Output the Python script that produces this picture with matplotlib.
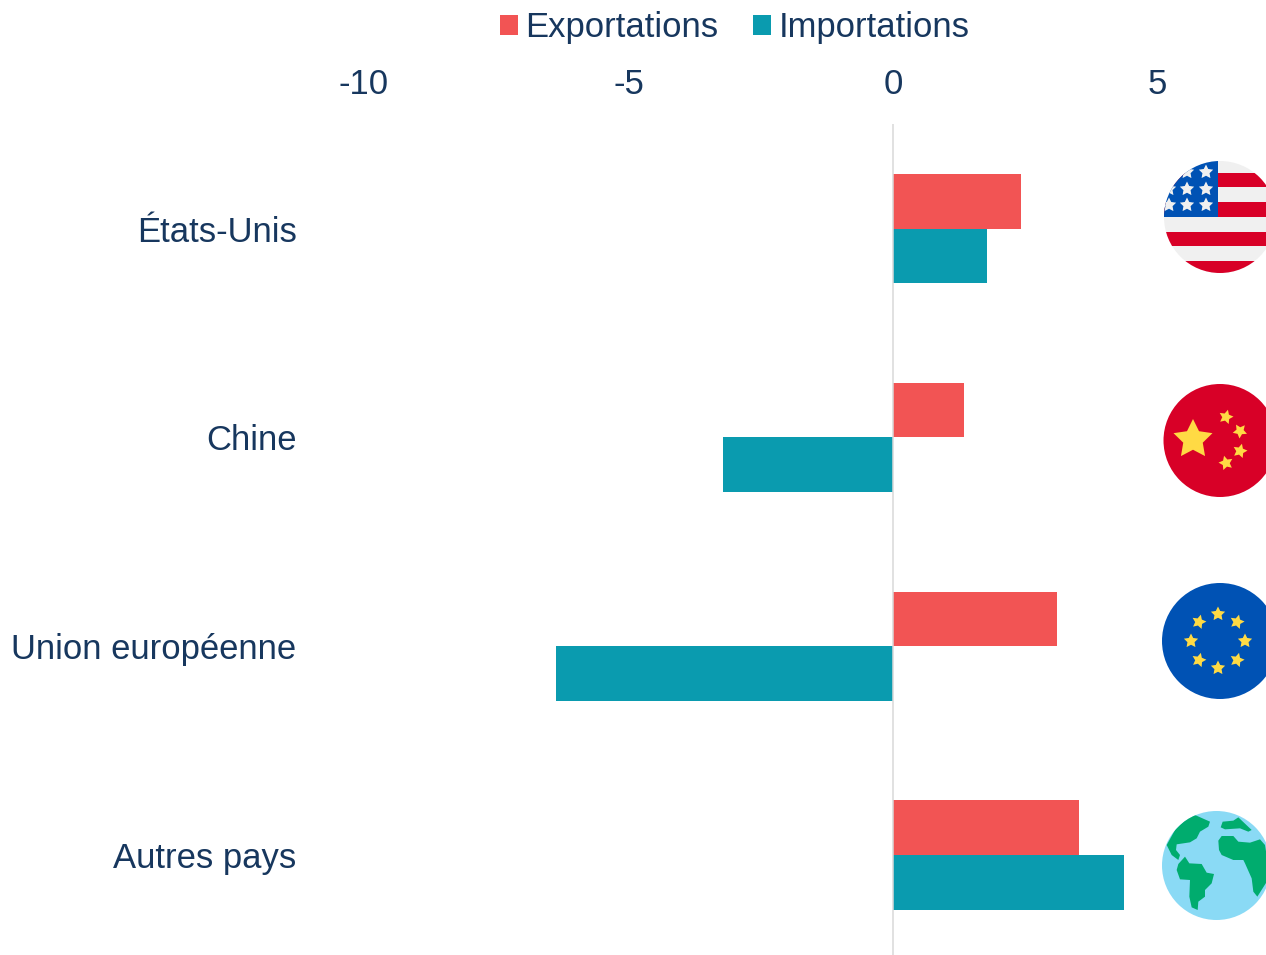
import numpy as np
import matplotlib
matplotlib.use("Agg")
import matplotlib.pyplot as plt
from matplotlib.patches import Circle, Polygon, Rectangle

plt.rcParams["font.family"] = ["Liberation Sans", "DejaVu Sans"]

countries = ["États-Unis", "Chine", "Union européenne", "Autres pays"]
exports = [2.42, 1.34, 3.10, 3.52]
imports = [1.78, -3.21, -6.37, 4.37]
xticks = [-10, -5, 0, 5]

RED, TEAL, NAVY = "#F25454", "#0A9BAF", "#17375E"
W, H = 1266, 955
BAR_H = 0.262
FS = 24.9


def star(cx, cy, r, rot=0.0):
    """five pointed star, pixel coords with y pointing down"""
    ang = np.deg2rad(-90 + rot + 36 * np.arange(10))
    rad = np.where(np.arange(10) % 2 == 0, r, r * 0.5)
    return np.c_[cx + rad * np.cos(ang), cy + rad * np.sin(ang)]


def add(ax, art, clip):
    ax.add_patch(art)
    art.set_clip_path(clip)


def flag_us(ax):
    cx, cy, r = 1220, 217, 56
    clip = Circle((cx, cy), r, fc="#F0F0F0", ec="none")
    ax.add_patch(clip)
    for y0, y1 in [(173, 187), (202, 217), (232, 246), (261, 275)]:
        add(ax, Rectangle((cx - r, y0), 2 * r, y1 - y0, fc="#D80027", ec="none"), clip)
    add(ax, Rectangle((cx - r, cy - r), 54, 56, fc="#0052B4", ec="none"), clip)
    for sx in (1169, 1187, 1206):
        for sy in (172, 189, 205):
            add(ax, Polygon(star(sx, sy, 7.5), fc="#F0F0F0", ec="none"), clip)


def flag_cn(ax):
    ax.add_patch(Circle((1220, 440.5), 56.5, fc="#D80027", ec="none"))
    ax.add_patch(Polygon(star(1193, 439.5, 20.5), fc="#FFDA44", ec="none"))
    for sx, sy, rot in [(1226, 417, 15), (1240, 431, 40), (1240, 451, 15), (1226, 463, -15)]:
        ax.add_patch(Polygon(star(sx, sy, 7.5, rot), fc="#FFDA44", ec="none"))


def flag_eu(ax):
    cx, cy = 1218, 641
    ax.add_patch(Circle((1220, cy), 58, fc="#0052B4", ec="none"))
    for a in np.arange(8) * 45:
        t = np.deg2rad(a)
        ax.add_patch(Polygon(star(cx + 27 * np.sin(t), cy - 27 * np.cos(t), 7.5, a % 30),
                             fc="#FFDA44", ec="none"))


def flag_world(ax):
    clip = Circle((1216.5, 865.5), 54.5, fc="#8ADAF5", ec="none")
    ax.add_patch(clip)
    lands = [
        [(135, 45), (180, 65), (175, 80), (150, 95), (140, 115), (120, 127), (80, 133), (78, 150),
         (90, 165), (85, 180), (65, 165), (50, 135), (75, 90), (105, 60), (125, 35)],
        [(105, 170), (118, 190), (155, 192), (170, 218), (192, 222), (185, 250), (165, 270),
         (165, 290), (145, 305), (143, 330), (125, 322), (118, 290), (120, 240), (90, 238),
         (80, 210), (85, 192)],
        [(218, 65), (250, 62), (265, 52), (305, 90), (295, 95), (270, 85), (225, 88), (212, 82)],
        [(205, 122), (215, 108), (250, 108), (265, 125), (300, 128), (330, 118), (345, 135),
         (360, 230), (322, 290), (310, 275), (305, 235), (285, 190), (280, 180), (250, 180),
         (215, 165), (207, 150)],
    ]
    for land in lands:
        pts = np.array(land) / 3 + [1150, 800]
        add(ax, Polygon(pts, fc="#00AC6E", ec="none"), clip)


fig = plt.figure(figsize=(W / 100, H / 100), dpi=100, facecolor="white")
top, bottom, left, right = 124.2, 959.5, 300, W
ax = fig.add_axes([left / W, 1 - bottom / H, (right - left) / W, (bottom - top) / H])
ppu = 52.9
ax.set_xlim((left - 893) / ppu, (right - 893) / ppu)
ax.set_ylim(3.5, -0.5)
ax.patch.set_alpha(0)

y = np.arange(len(countries))
ax.barh(y - BAR_H / 2, exports, BAR_H, color=RED, label="Exportations", zorder=2)
ax.barh(y + BAR_H / 2, imports, BAR_H, color=TEAL, label="Importations", zorder=2)
ax.axvline(0, color="#D9D9D9", lw=1.1, zorder=3)

for s in ax.spines.values():
    s.set_visible(False)
ax.xaxis.tick_top()
ax.set_xticks(xticks)
ax.set_xticklabels([str(v) for v in xticks])
ax.set_yticks(y)
ax.set_yticklabels(countries)
ax.tick_params(axis="both", length=0, labelsize=FS, labelcolor=NAVY)
ax.tick_params(axis="x", pad=17)
ax.tick_params(axis="y", pad=2.5)

fig.legend(loc="center left", bbox_to_anchor=(469 / W, 1 - 28 / H), ncol=2, frameon=False,
           fontsize=FS, labelcolor=NAVY, handlelength=0.53, handleheight=0.53,
           handletextpad=0.2, columnspacing=1.0)

ov = fig.add_axes([0, 0, 1, 1])
ov.set_xlim(0, W)
ov.set_ylim(H, 0)
ov.axis("off")
ov.patch.set_alpha(0)
flag_us(ov)
flag_cn(ov)
flag_eu(ov)
flag_world(ov)

fig.savefig("out.png", dpi=100)
